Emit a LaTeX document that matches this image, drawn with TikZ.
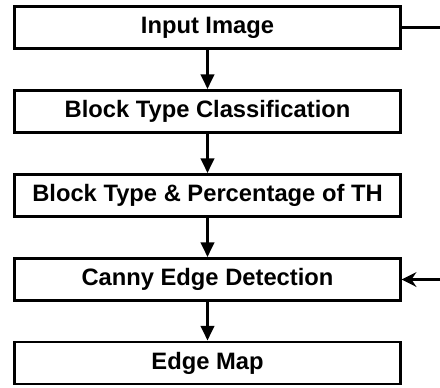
\documentclass[tikz,border=0pt]{standalone}
\usepackage{fontspec}
\setmainfont{Liberation Sans}
\usetikzlibrary{arrows.meta}
\tikzset{blk/.style={draw=black,line width=2.2pt,minimum width=289pt,minimum height=31.5pt,
  inner sep=0pt,font=\bfseries\fontsize{17.8}{20}\selectfont},
  flow/.style={line width=2.2pt,-{Triangle[width=10pt,length=11pt]}}}
\begin{document}
\begin{tikzpicture}[x=0.75pt,y=-0.75pt]
\useasboundingbox (0,0) rectangle (440,387);
\node[blk] (img) at (207.5,27.5) {Input Image};
\node[blk] (cls) at (207.5,111.5) {Block Type Classification};
\node[blk] (pct) at (207.5,195.5) {Block Type \& Percentage of TH};
\node[blk] (cny) at (207.5,279.5) {Canny Edge Detection};
\node[blk] (map) at (207.5,363) {Edge Map};
\coordinate (out) at (440,27.5);
\coordinate (in) at (440,279.5);
\draw[flow] (img)--(cls);
\draw[flow] (cls)--(pct);
\draw[flow] (pct)--(cny);
\draw[flow] (cny)--(map);
\draw[line width=2.2pt] (img.east)--(out);
\draw[line width=2.2pt,-{Stealth[width=11pt,length=11pt]}] (in)--(cny.east);
\end{tikzpicture}
\end{document}
